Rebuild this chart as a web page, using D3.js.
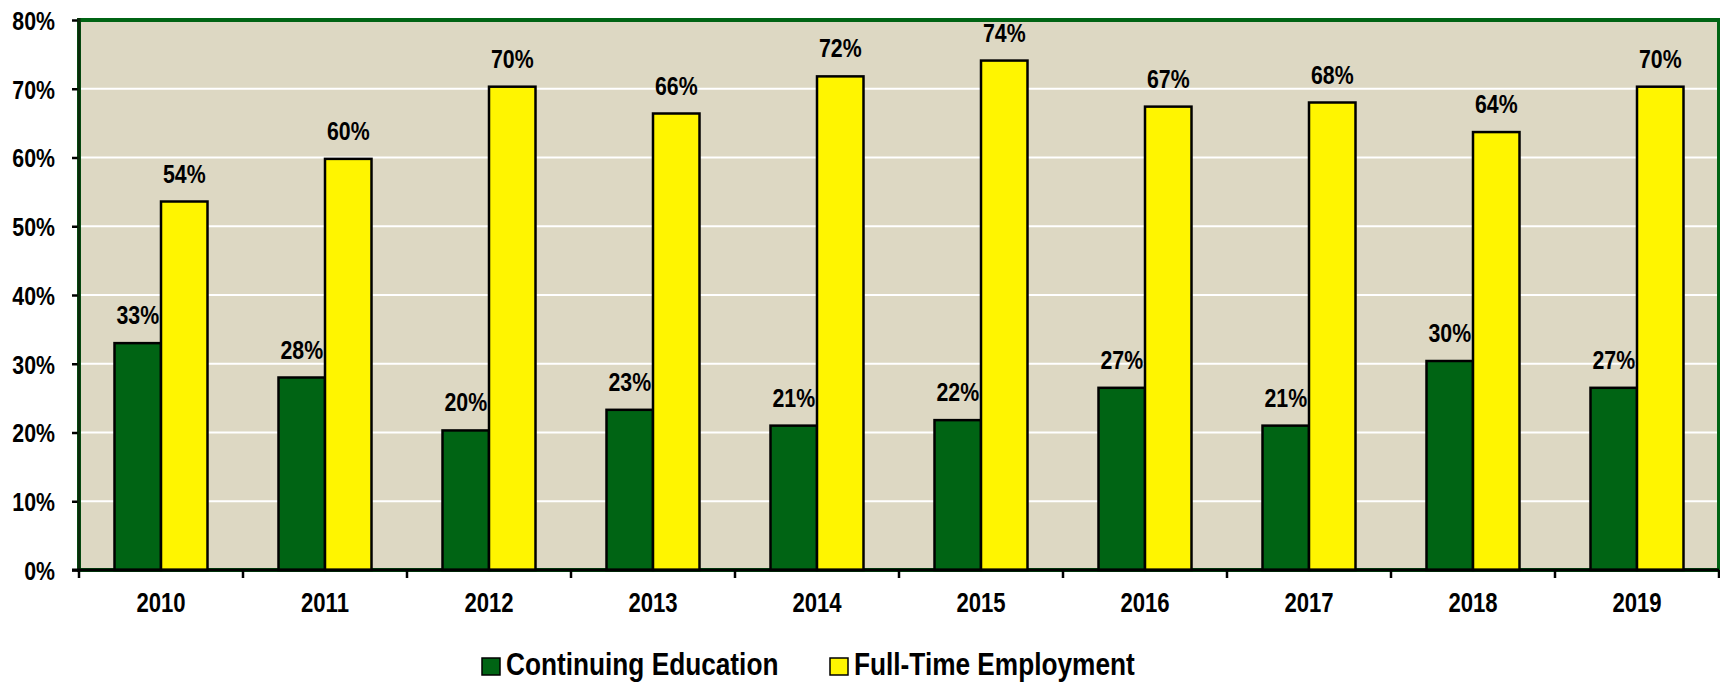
<!DOCTYPE html>
<html>
<head>
<meta charset="utf-8">
<title></title>
<style type="text/css">
body { margin: 0; background: #fff; }
text {
    font-family: "Liberation Sans", Arial, sans-serif;
    font-weight: bold;
    fill: #000;
}
.y-axis text { font-size: 26px; }
.x-axis text { font-size: 27px; }
.label { font-size: 26px; }
.legend text { font-size: 32px; }
</style>
</head>
<body>
<svg width="1720" height="684"></svg>
<script src="https://d3js.org/d3.v7.min.js"></script>
<script type="text/javascript">
var years = ["2010", "2011", "2012", "2013", "2014", "2015", "2016", "2017", "2018", "2019"];
var continuingEducation = [33.0, 28.0, 20.3, 23.3, 21.0, 21.8, 26.5, 21.0, 30.4, 26.5];
var fullTimeEmployment = [53.6, 59.8, 70.3, 66.4, 71.8, 74.1, 67.4, 68.0, 63.7, 70.3];
var seriesNames = ["Continuing Education", "Full-Time Employment"];
var colors = ["#006414", "#FFF500"];
var yTicks = [0, 10, 20, 30, 40, 50, 60, 70, 80];

// narrow font: Arial Narrow isn't around, squeeze Liberation Sans instead
var squeeze = 0.82;
function narrow(sel) {
    sel.each(function() {
        var t = d3.select(this);
        var xx = +t.attr("x") || 0;
        t.attr("x", xx / squeeze).attr("transform", "scale(" + squeeze + ",1)");
    });
}

var svg = d3.select("svg"),
    margin = {top: 20, right: 1, left: 79, bottom: 114},
    width = 1720 - margin.left - margin.right,
    height = 684 - margin.top - margin.bottom;

var g = svg.append("g").attr("transform", "translate(" + margin.left + "," + margin.top + ")");

var x = d3.scaleBand().domain(years).range([0, width]);
var x1 = d3.scaleBand().domain([0, 1]).range([0, 93]);
var y = d3.scaleLinear().domain([0, 80]).range([height, 0]);

// plot area
g.append("rect")
    .attr("width", width)
    .attr("height", height)
    .attr("fill", "#DDD8C3")
    .attr("stroke", "#006414")
    .attr("stroke-width", 4);

// gridlines
g.selectAll(".grid")
    .data(yTicks.slice(1, -1))
    .enter().append("line")
    .attr("x1", 2).attr("x2", width - 2)
    .attr("y1", function(d) { return y(d); })
    .attr("y2", function(d) { return y(d); })
    .attr("stroke", "#fff")
    .attr("stroke-width", 2);

var data = years.map(function(yr, i) {
    return {year: yr, values: [continuingEducation[i], fullTimeEmployment[i]]};
});

var groups = g.selectAll(".group")
    .data(data)
    .enter().append("g")
    .attr("transform", function(d) { return "translate(" + (x(d.year) + (x.bandwidth() - 93) / 2) + ",0)"; });

groups.selectAll("rect")
    .data(function(d) { return d.values; })
    .enter().append("rect")
    .attr("x", function(d, i) { return x1(i); })
    .attr("width", x1.bandwidth())
    .attr("y", function(d) { return y(d); })
    .attr("height", function(d) { return height - y(d); })
    .attr("fill", function(d, i) { return colors[i]; })
    .attr("stroke", "#000")
    .attr("stroke-width", 2.5);

groups.selectAll(".label")
    .data(function(d) { return d.values; })
    .enter().append("g")
    .attr("transform", function(d, i) { return "translate(" + (x1(i) + x1.bandwidth() / 2) + "," + (y(d) - 19) + ")"; })
    .append("text")
    .attr("class", "label")
    .attr("text-anchor", "middle")
    .attr("transform", "scale(" + squeeze + ",1)")
    .text(function(d) { return Math.round(d) + "%"; });

// axes
var yAxis = g.append("g")
    .attr("class", "y-axis")
    .call(d3.axisLeft(y).tickValues(yTicks).tickSize(7).tickPadding(17)
        .tickFormat(function(d) { return d + "%"; }));
yAxis.select(".domain").remove();
yAxis.selectAll(".tick line").attr("stroke", "#000").attr("stroke-width", 2.5);
yAxis.selectAll(".tick text").attr("dy", "0.36em").call(narrow);

var xAxis = g.append("g")
    .attr("class", "x-axis")
    .attr("transform", "translate(0," + height + ")")
    .call(d3.axisBottom(x).tickSize(0).tickPadding(42));
xAxis.select(".domain").remove();
xAxis.selectAll(".tick text").attr("dy", "0").call(narrow);

g.selectAll(".xtick")
    .data(d3.range(years.length + 1))
    .enter().append("line")
    .attr("x1", function(d) { return d * x.step(); })
    .attr("x2", function(d) { return d * x.step(); })
    .attr("y1", height).attr("y2", height + 8)
    .attr("stroke", "#000").attr("stroke-width", 2.5);

g.append("line")
    .attr("x1", 0).attr("x2", 0).attr("y1", -2).attr("y2", height + 1)
    .attr("stroke", "#0a2a0a").attr("stroke-width", 3);
g.append("line")
    .attr("x1", -7).attr("x2", width).attr("y1", height).attr("y2", height)
    .attr("stroke", "#000").attr("stroke-width", 3);

// legend
var legendX = [482, 830];
var legend = svg.append("g").attr("class", "legend")
    .selectAll("g")
    .data(seriesNames)
    .enter().append("g")
    .attr("transform", function(d, i) { return "translate(" + legendX[i] + ",658)"; });
legend.append("rect")
    .attr("width", 18).attr("height", 17)
    .attr("fill", function(d, i) { return colors[i]; })
    .attr("stroke", "#000").attr("stroke-width", 1.5);
legend.append("text")
    .attr("x", 24).attr("y", 17)
    .call(narrow)
    .text(function(d) { return d; });
</script>
</body>
</html>
